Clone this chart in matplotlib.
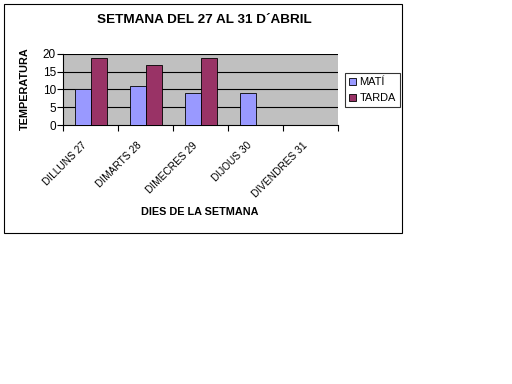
import matplotlib
matplotlib.use("Agg")
import matplotlib.pyplot as plt
import matplotlib.transforms as mtransforms
from matplotlib.patches import Rectangle
import numpy as np

categories = ["DILLUNS 27", "DIMARTS 28", "DIMECRES 29", "DIJOUS 30", "DIVENDRES 31"]
mati = [10, 11, 9, 9, 0]
tarda = [19, 17, 19, 0, 0]
series_names = ["MATÍ", "TARDA"]

plt.rcParams['font.family'] = ['Liberation Sans', 'DejaVu Sans']

fig = plt.figure(figsize=(5.12, 3.84), dpi=100)
fig.patch.set_facecolor('white')

# outer chart border
fig.add_artist(Rectangle((4/512, 1-233/384), 398/512, 229/384, transform=fig.transFigure,
                         fill=False, edgecolor='black', linewidth=0.8))

ax = fig.add_axes([63/512, 1-125/384, 275/512, 71/384])
ax.set_facecolor('#C0C0C0')

x = np.arange(len(categories))
w = 16/55
ax.bar(x - w/2, mati, width=w, color='#9999FF', edgecolor='black', linewidth=0.6, label=series_names[0], zorder=3)
ax.bar(x + w/2, tarda, width=w, color='#993366', edgecolor='black', linewidth=0.6, label=series_names[1], zorder=3)

ax.set_xlim(-0.5, len(categories) - 0.5)
ax.set_ylim(0, 20)
ax.set_yticks([0, 5, 10, 15, 20])
for yv in [5, 10, 15, 20]:
    ax.axhline(yv, color='black', linewidth=0.8, zorder=1)

ax.set_xticks(np.arange(-0.5, len(categories) + 0.5, 1.0))
ax.set_xticklabels([])
ax.set_xticks(x, minor=True)
ax.set_xticklabels(categories, minor=True, rotation=45, ha='right', rotation_mode='anchor', fontsize=7.3)
ax.tick_params(axis='x', which='major', direction='out', length=4, width=0.8)
ax.tick_params(axis='x', which='minor', length=0, pad=4)
ax.tick_params(axis='y', direction='out', length=4, width=0.8, labelsize=8.5, pad=1)

offset = mtransforms.ScaledTranslation(-0.085, -0.10, fig.dpi_scale_trans)
for lbl in ax.get_xticklabels(minor=True):
    lbl.set_transform(lbl.get_transform() + offset)

for s in ['top', 'right']:
    ax.spines[s].set_visible(False)
ax.spines['left'].set_linewidth(0.8)
ax.spines['bottom'].set_linewidth(0.8)

fig.text(204/512, 1-20/384, "SETMANA DEL 27 AL 31 D´ABRIL", ha='center', va='center',
         fontsize=9.7, fontweight='bold')
fig.text(200/512, 1-212/384, "DIES DE LA SETMANA", ha='center', va='center',
         fontsize=7.8, fontweight='bold')
fig.text(25/512, 1-89/384, "TEMPERATURA", ha='center', va='center', rotation=90,
         fontsize=7.8, fontweight='bold')

leg = fig.legend(loc='center', bbox_to_anchor=(372.5/512, 1-90/384), frameon=True,
                 fontsize=7.9, handlelength=0.6, handleheight=0.6, handletextpad=0.3,
                 borderpad=0.4, labelspacing=0.55, fancybox=False, edgecolor='black')
leg.get_frame().set_linewidth(0.8)

fig.savefig("out.png", dpi=100)
